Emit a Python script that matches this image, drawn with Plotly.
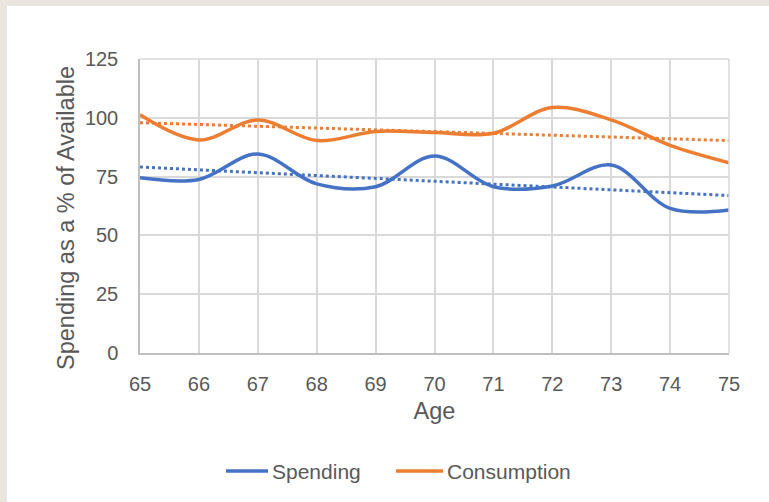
import numpy as np
import plotly.graph_objects as go

ages = [65, 66, 67, 68, 69, 70, 71, 72, 73, 74, 75]
spending = [74.5, 73.8, 84.6, 71.9, 70.7, 83.8, 70.7, 71.0, 79.9, 61.5, 60.8]
consumption = [101.3, 90.6, 99.1, 90.3, 94.2, 93.7, 93.4, 104.4, 99.1, 88.3, 80.9]
y_ticks = [0, 25, 50, 75, 100, 125]
series_names = ["Spending", "Consumption"]
y_title = "Spending as a % of Available"

BLUE = "#4472C4"
ORANGE = "#ED7D31"
BEIGE = "#EAE6DF"
GRID = "#D9D9D9"
TEXT = "#595959"

def trend(x, y):
    m, b = np.polyfit(x, y, 1)
    return [m * xi + b for xi in x]

fig = go.Figure()
fig.add_trace(go.Scatter(x=ages, y=spending, mode="lines", name=series_names[0], showlegend=False,
                         line=dict(color=BLUE, width=3.5, shape="spline", smoothing=1)))
fig.add_trace(go.Scatter(x=ages, y=consumption, mode="lines", name=series_names[1], showlegend=False,
                         line=dict(color=ORANGE, width=3.5, shape="spline", smoothing=1)))
fig.add_trace(go.Scatter(x=ages, y=trend(ages, spending), mode="lines", showlegend=False,
                         line=dict(color=BLUE, width=3, dash="dot")))
fig.add_trace(go.Scatter(x=ages, y=trend(ages, consumption), mode="lines", showlegend=False,
                         line=dict(color=ORANGE, width=3, dash="dot")))

L, R, T, B = 140, 40, 59, 149
W, H = 769, 502
pw, ph = W - L - R, H - T - B

def px_x(v):
    return (v - L) / pw

def px_y(v):
    return (H - B - v) / ph

# beige frame bands (top and left)
fig.add_shape(type="rect", xref="paper", yref="paper", x0=px_x(0), x1=px_x(W), y0=px_y(6), y1=px_y(0),
              fillcolor=BEIGE, line_width=0, layer="below")
fig.add_shape(type="rect", xref="paper", yref="paper", x0=px_x(0), x1=px_x(7), y0=px_y(H), y1=px_y(0),
              fillcolor=BEIGE, line_width=0, layer="below")

# custom legend (longer line samples as in the reference)
leg_y = px_y(471)
for (lx0, lx1, tx), name, col in zip([(226, 268, 272), (396, 443, 447)], series_names, [BLUE, ORANGE]):
    fig.add_shape(type="line", xref="paper", yref="paper", x0=px_x(lx0), x1=px_x(lx1), y0=leg_y, y1=leg_y,
                  line=dict(color=col, width=3.5))
    fig.add_annotation(xref="paper", yref="paper", x=px_x(tx), y=leg_y, text=name, showarrow=False,
                       xanchor="left", yanchor="middle", xshift=-2,
                       font=dict(size=21, color=TEXT))

# y-axis title (placed like the reference, slightly below plot centre)
fig.add_annotation(xref="paper", yref="paper", x=px_x(66), y=px_y(218), text=y_title, showarrow=False,
                   textangle=-90, xanchor="center", yanchor="middle",
                   font=dict(size=23.5, color=TEXT))

font = "Liberation Sans, Arial, sans-serif"
fig.update_layout(
    width=W, height=H,
    margin=dict(l=L, r=R, t=T, b=B),
    paper_bgcolor="white", plot_bgcolor="white",
    font=dict(family=font, color=TEXT, size=20),
    showlegend=False,
    xaxis=dict(range=[65, 75], dtick=1, tick0=65, showgrid=True, gridcolor=GRID, gridwidth=1.5,
               showline=True, linecolor="#BFBFBF", linewidth=1.5, mirror=False,
               ticks="outside", ticklen=12, tickcolor="rgba(0,0,0,0)", zeroline=False,
               tickfont=dict(size=20, color=TEXT),
               title=dict(text="Age", font=dict(size=23.5, color=TEXT), standoff=9)),
    yaxis=dict(range=[0, 125], tickvals=y_ticks, showgrid=True, gridcolor=GRID, gridwidth=1.5,
               showline=True, linecolor="#BFBFBF", linewidth=1.5,
               ticks="outside", ticklen=16, tickcolor="rgba(0,0,0,0)", zeroline=False,
               tickfont=dict(size=20, color=TEXT)),
)
fig.add_shape(type="line", xref="paper", yref="paper", x0=0, x1=1, y0=1, y1=1, line=dict(color=GRID, width=1.5))
fig.add_shape(type="line", xref="paper", yref="paper", x0=1, x1=1, y0=0, y1=1, line=dict(color=GRID, width=1.5))

fig.write_html("out.html", config={"displayModeBar": False},
               post_script="document.body.style.margin='0';document.body.style.overflow='hidden';")
